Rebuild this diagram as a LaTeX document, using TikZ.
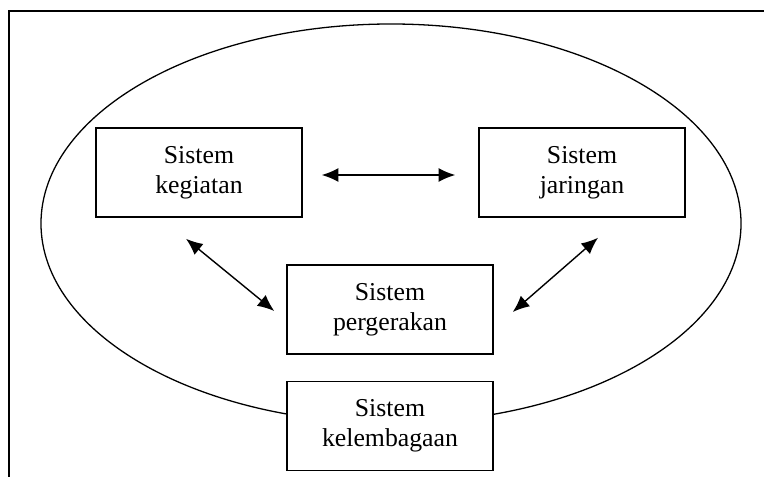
\documentclass[tikz,border=0pt]{standalone}
\usepackage{fontspec}
\setmainfont{Liberation Serif}
\usetikzlibrary{arrows.meta,calc}

\begin{document}
\begin{tikzpicture}[x=0.03cm, y=-0.03cm,
    sistembox/.style={draw, line width=1.3pt, fill=white, align=center,
      minimum width=6.18cm, minimum height=2.67cm, inner sep=0pt,
      font=\fontsize{22}{25.6}\selectfont},
    twoway/.style={{Latex[length=0.5cm,width=0.42cm]}-{Latex[length=0.5cm,width=0.42cm]}, line width=1.2pt}]
        \useasboundingbox (0,0) rectangle (764,477);
        % frame: right and bottom sides fall outside the page
        \draw[line width=1.5pt] (764,11) -| (9,477);
        % ellipse round the three inner systems
        \draw[line width=1.1pt] (391,223.5) ellipse [x radius=10.5cm, y radius=5.985cm];
        \node[sistembox] (kegiatan) at (199,172.5) {Sistem\\kegiatan};
        \node[sistembox] (jaringan) at (582,172.5) {Sistem\\jaringan};
        \node[sistembox] (pergerakan) at (390,309.5) {Sistem\\pergerakan};
        \node[sistembox] (kelembagaan) at (390,426) {Sistem\\kelembagaan};
        % links between the systems
        \draw[twoway] ($(kegiatan.east)+(19,2.5)$) -- ($(jaringan.west)+(-23,2.5)$);
        \draw[twoway] ($(kegiatan.south)+(-13,21)$) -- ($(pergerakan.west)+(-12,1.5)$);
        \draw[twoway] ($(jaringan.south)+(16,20)$) -- ($(pergerakan.east)+(19,2.5)$);
      \end{tikzpicture}
\end{document}
